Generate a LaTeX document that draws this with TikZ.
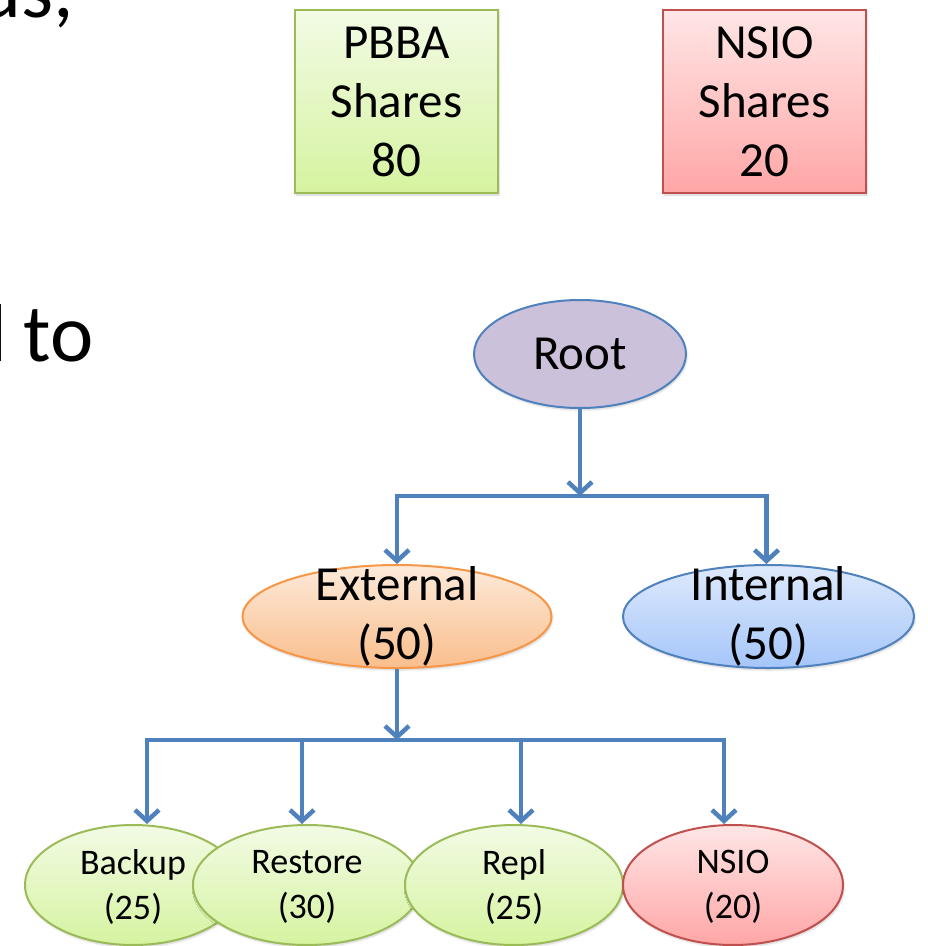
\documentclass[tikz,border=0pt]{standalone}
\usepackage{fontspec}
\setmainfont{Carlito}
\usetikzlibrary{shapes.geometric,arrows.meta,shadows.blur}

\definecolor{linkblue}{RGB}{79,129,189}
\definecolor{grnedge}{RGB}{155,187,89}
\definecolor{grntop}{RGB}{242,251,229}
\definecolor{grnbot}{RGB}{214,243,160}
\definecolor{rededge}{RGB}{192,80,77}
\definecolor{redtop}{RGB}{255,230,230}
\definecolor{redbot}{RGB}{255,166,166}
\definecolor{orgedge}{RGB}{247,150,70}
\definecolor{orgtop}{RGB}{253,234,218}
\definecolor{orgbot}{RGB}{250,190,140}
\definecolor{bluetop}{RGB}{222,233,251}
\definecolor{bluebot}{RGB}{165,198,250}
\definecolor{lavender}{RGB}{204,193,218}

\begin{document}
\begin{tikzpicture}[x=1pt,y=-1pt,
  big/.style={font=\fontsize{49}{59}\selectfont, align=center, inner sep=0pt},
  small/.style={font=\fontsize{36}{45}\selectfont, align=center, inner sep=0pt},
  slide/.style={font=\fontsize{82}{98}\selectfont, inner sep=0pt, anchor=base east},
  soft/.style={blur shadow={shadow xshift=1pt, shadow yshift=-2pt, shadow opacity=18, shadow blur steps=6}},
  sharebox/.style={rectangle, draw, line width=2pt, minimum width=203pt, minimum height=183pt, big, soft},
  oval/.style={ellipse, draw, line width=2pt, inner sep=0pt, soft},
  greenfill/.style={draw=grnedge, top color=grntop, bottom color=grnbot},
  redfill/.style={draw=rededge, top color=redtop, bottom color=redbot},
  leaf/.style={oval, minimum height=120pt},
  link/.style={draw=linkblue, line width=4.5pt},
  arr/.style={link, -{Straight Barb[length=11pt, width=24pt]}},
]
\useasboundingbox (0,0) rectangle (928,946);
\clip (0,0) rectangle (928,946);

% fragments of the slide text on the left
\node[slide] (frag1) at (74,17) {ds,};
\node[slide] (frag2) at (94,361) {l\hspace{17pt}to};

% share boxes
\node[sharebox, greenfill] (pbba) at (396.5,101.5) {PBBA\\Shares\\80};
\node[sharebox, redfill] (nsiobox) at (764.5,101.5) {NSIO\\Shares\\20};

% tree nodes
\node[oval, draw=linkblue, fill=lavender, minimum width=212pt, minimum height=108pt,
      label={[big]center:Root}] (root) at (580,354) {};
\node[oval, draw=orgedge, top color=orgtop, bottom color=orgbot,
      minimum width=309pt, minimum height=103pt,
      label={[big]center:External\\(50)}] (ext) at (397,616.5) {};
\node[oval, draw=linkblue, top color=bluetop, bottom color=bluebot,
      minimum width=291pt, minimum height=103pt,
      label={[big]center:Internal\\(50)}] (int) at (768.5,616.5) {};

\node[leaf, greenfill, minimum width=216pt, label={[small, yshift=-2pt]center:Backup\\(25)}] (bk) at (133,885) {};
\node[leaf, greenfill, minimum width=228pt, label={[small, yshift=-2pt]center:Restore\\(30)}] (rs) at (307,885) {};
\node[leaf, greenfill, minimum width=218pt, label={[small, yshift=-2pt]center:Repl\\(25)}] (rp) at (514,885) {};
\node[leaf, redfill, minimum width=220pt, label={[small, yshift=-2pt]center:NSIO\\(20)}] (ns) at (733,885) {};

% connectors
\coordinate (j1) at (580,496);
\coordinate (j2) at (397,740);

\draw[arr] (root.south) -- (j1);
\draw[arr] (j1) -| (ext.north);
\draw[arr] (j1) -| ([xshift=-2pt]int.north);

\draw[arr] (ext.south) -- (j2);
\draw[arr] (j2) -| ([xshift=14pt]bk.north);
\draw[arr] (j2) -| ([xshift=-5pt]rs.north);
\draw[arr] (j2) -| ([xshift=7pt]rp.north);
\draw[arr] (j2) -| ([xshift=-9pt]ns.north);
\end{tikzpicture}
\end{document}
